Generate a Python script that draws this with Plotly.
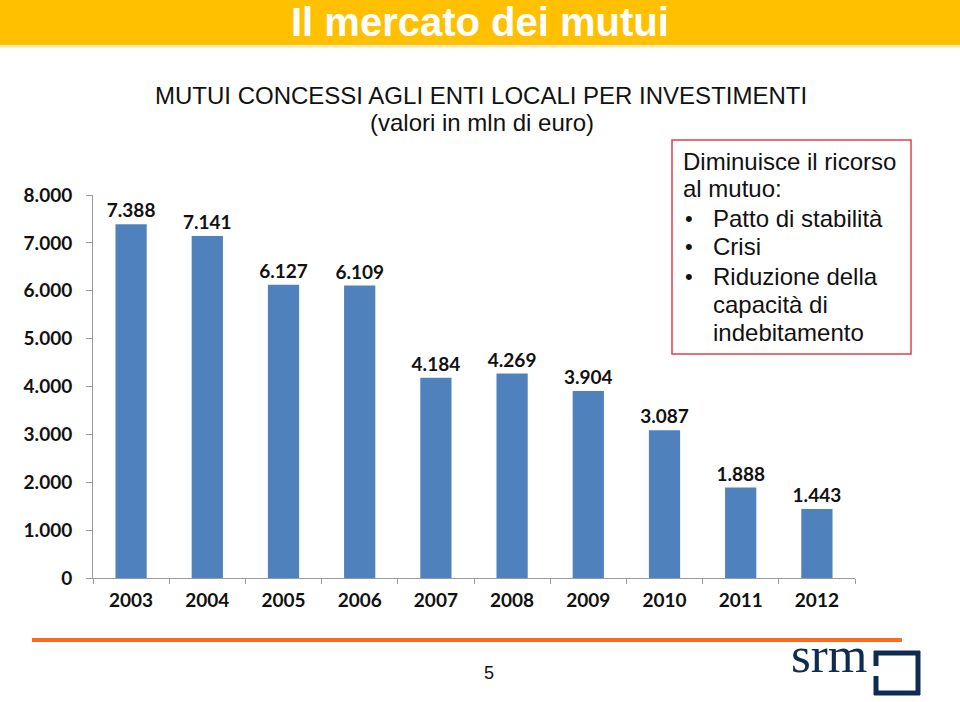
import plotly.graph_objects as go

years = ["2003", "2004", "2005", "2006", "2007", "2008", "2009", "2010", "2011", "2012"]
values = [7388, 7141, 6127, 6109, 4184, 4269, 3904, 3087, 1888, 1443]
y_ticks = [0, 1000, 2000, 3000, 4000, 5000, 6000, 7000, 8000]

title_text = "Il mercato dei mutui"
subtitle1 = "MUTUI CONCESSI AGLI ENTI LOCALI PER INVESTIMENTI"
subtitle2 = "(valori in mln di euro)"
box_lines = [
    ("Diminuisce il ricorso", False),
    ("al mutuo:", False),
    ("Patto di stabilità", True),
    ("Crisi", True),
    ("Riduzione della", True),
    ("capacità di", "cont"),
    ("indebitamento", "cont"),
]

W, H = 960, 702
L, R, T, B = 93, 855, 195, 578


def px(x):
    return (x - L) / (R - L)


def py(y):
    return (B - y) / (B - T)


fig = go.Figure()
fig.add_trace(go.Bar(
    x=years, y=values,
    marker=dict(color="#4F81BD", line=dict(width=0)),
    texttemplate="%{y:,d}", textposition="outside", constraintext="none",
    textfont=dict(family="Lato", size=19, color="#111111", weight="bold"),
    cliponaxis=False,
))

shapes = []
annotations = []

# title bar
shapes.append(dict(type="rect", xref="paper", yref="paper", x0=px(0), x1=px(W), y0=py(45), y1=py(0),
                   fillcolor="#FFC000", line=dict(width=0), layer="below"))
shapes.append(dict(type="line", xref="paper", yref="paper", x0=px(0), x1=px(W), y0=py(46.5), y1=py(46.5),
                   line=dict(color="#FFE9A8", width=2)))
annotations.append(dict(text="<b>" + title_text + "</b>", xref="paper", yref="paper", x=px(480), y=py(22),
                        xanchor="center", yanchor="middle", showarrow=False,
                        font=dict(family="Liberation Sans", size=40, color="white")))
annotations.append(dict(text=subtitle1, xref="paper", yref="paper", x=px(481), y=py(95),
                        xanchor="center", yanchor="middle", showarrow=False,
                        font=dict(family="Liberation Sans", size=24, color="#111111")))
annotations.append(dict(text=subtitle2, xref="paper", yref="paper", x=px(482), y=py(122),
                        xanchor="center", yanchor="middle", showarrow=False,
                        font=dict(family="Liberation Sans", size=24, color="#111111")))

# text box
shapes.append(dict(type="rect", xref="paper", yref="paper", x0=px(672), x1=px(911), y0=py(354), y1=py(140),
                   fillcolor="white", line=dict(color="#D9434F", width=1.5)))
line_y = [161, 189, 218, 246, 276, 304, 332]
for (txt, kind), yy in zip(box_lines, line_y):
    x0 = 681 if kind is False else 711
    annotations.append(dict(text=txt, xref="paper", yref="paper", x=px(x0), y=py(yy),
                            xanchor="left", yanchor="middle", showarrow=False,
                            font=dict(family="Liberation Sans", size=24, color="#111111")))
    if kind is True:
        annotations.append(dict(text="•", xref="paper", yref="paper", x=px(683), y=py(yy),
                                xanchor="left", yanchor="middle", showarrow=False,
                                font=dict(family="Liberation Sans", size=22, color="#111111")))

# bottom orange line
shapes.append(dict(type="line", xref="paper", yref="paper", x0=px(32), x1=px(902), y0=py(640), y1=py(640),
                   line=dict(color="#FF6A1F", width=4)))
annotations.append(dict(text="5", xref="paper", yref="paper", x=px(489), y=py(673),
                        xanchor="center", yanchor="middle", showarrow=False,
                        font=dict(family="Liberation Sans", size=18, color="#111111")))

# srm logo
navy = "#0E2C50"
annotations.append(dict(text="srm", xref="paper", yref="paper", x=px(789), y=py(655),
                        xanchor="left", yanchor="middle", showarrow=False,
                        font=dict(family="Liberation Serif", size=51, color=navy)))
lw = 5
for (xa, ya, xb, yb) in [(874, 653, 920, 653), (918, 651, 918, 695), (874, 693, 920, 693),
                         (876, 651, 876, 666), (876, 676, 876, 695)]:
    shapes.append(dict(type="line", xref="paper", yref="paper", x0=px(xa), x1=px(xb), y0=py(ya), y1=py(yb),
                       line=dict(color=navy, width=lw)))

fig.update_layout(
    width=W, height=H,
    margin=dict(l=L, r=W - R, t=T, b=H - B),
    paper_bgcolor="white", plot_bgcolor="white",
    separators=",.",
    bargap=0.59,
    showlegend=False,
    shapes=shapes,
    annotations=annotations,
    xaxis=dict(
        type="category", showgrid=False, showline=True, linecolor="#9A9A9A", linewidth=1,
        ticks="outside", tickson="boundaries", ticklen=5, tickcolor="#9A9A9A",
        tickfont=dict(family="Lato", size=19, color="#111111", weight="bold"),
        ticklabelstandoff=5,
    ),
    yaxis=dict(
        range=[0, 8000], tickvals=y_ticks, tickformat=",d", showgrid=False, zeroline=False,
        showline=True, linecolor="#9A9A9A", linewidth=1,
        ticks="outside", ticklen=6, tickcolor="#9A9A9A",
        tickfont=dict(family="Lato", size=19, color="#111111", weight="bold"),
        ticklabelstandoff=10,
    ),
)

fig.write_html("out.html")
